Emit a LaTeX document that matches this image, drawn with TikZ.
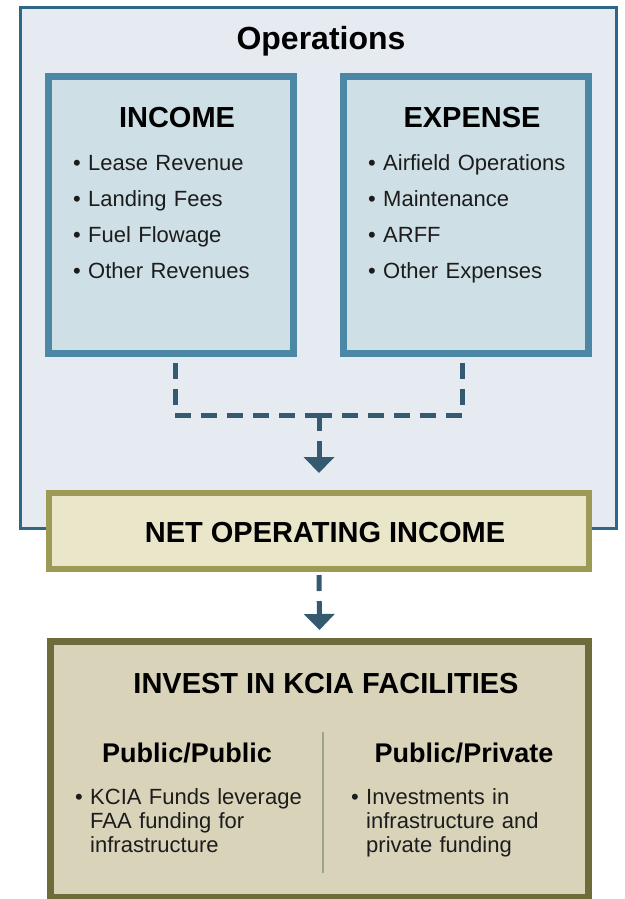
\documentclass[tikz,border=0pt]{standalone}
\usepackage{fontspec}
\setmainfont{Liberation Sans}
\usetikzlibrary{arrows.meta}

\definecolor{opsfill}{HTML}{E6EBF2}
\definecolor{opsline}{HTML}{2F6585}
\definecolor{subfill}{HTML}{CFDFE6}
\definecolor{subline}{HTML}{4C88A6}
\definecolor{noifill}{HTML}{EAE6C9}
\definecolor{noiline}{HTML}{9C9A55}
\definecolor{invfill}{HTML}{D9D3BA}
\definecolor{invline}{HTML}{6E6C3A}
\definecolor{flowcol}{HTML}{355A70}
\definecolor{divcol}{HTML}{9AA58A}
\definecolor{bodytext}{HTML}{1C1C1C}

\begin{document}
\begin{tikzpicture}[x=1pt, y=-1pt,
    opsbox/.style={draw=opsline, fill=opsfill, line width=3pt, inner sep=0},
    subbox/.style={draw=subline, fill=subfill, line width=7pt, inner sep=0,
      minimum width=245pt, minimum height=277pt},
    noibox/.style={draw=noiline, fill=noifill, line width=6pt, inner sep=0},
    invbox/.style={draw=invline, fill=invfill, line width=7pt, inner sep=0},
    bigtitle/.style={font=\bfseries\fontsize{32}{36}\selectfont, inner sep=0, anchor=base},
    boxtitle/.style={font=\bfseries\fontsize{29}{32}\selectfont, inner sep=0, anchor=base},
    subtitle/.style={font=\bfseries\fontsize{27}{30}\selectfont, inner sep=0, anchor=base},
    itemlist/.style={text=bodytext, inner sep=0, anchor=base west, align=left,
      text width=230pt},
    flow/.style={flowcol, line width=5pt, dash pattern=on 16pt off 10pt},
    flowhead/.style={-{Triangle[width=30pt,length=16pt]}}]
    \useasboundingbox (0,0) rectangle (624,899);
    % operations frame
    \node[opsbox, minimum width=596pt, minimum height=520pt] (ops) at (318,268) {};
    \node[bigtitle] (opstitle) at (321,49) {Operations};
    % income and expense
    \node[subbox] (income) at (171,215) {};
    \node[subbox] (expense) at (466,215) {};
    \node[boxtitle] (inctitle) at (177,127) {INCOME};
    \node[boxtitle] (exptitle) at (472,127) {EXPENSE};
    \node[itemlist, font=\fontsize{22}{36.2}\selectfont] (inclist) at (73,170)
      {• Lease Revenue\\• Landing Fees\\• Fuel Flowage\\• Other Revenues};
    \node[itemlist, font=\fontsize{22}{36.2}\selectfont] (explist) at (368,170)
      {• Airfield Operations\\• Maintenance\\• ARFF\\• Other Expenses};
    % net operating income
    \node[noibox, minimum width=540pt, minimum height=76pt] (noi) at (319,531) {};
    \node[boxtitle] (noititle) at (325,542) {NET OPERATING INCOME};
    % investment
    \node[invbox, minimum width=538pt, minimum height=256pt] (invest) at (319.5,769.5) {};
    \node[boxtitle] (invtitle) at (326,693) {INVEST IN KCIA FACILITIES};
    \node[subtitle] (pubpub) at (187,762) {Public/Public};
    \node[subtitle] (pubpriv) at (464,762) {Public/Private};
    \node[itemlist, font=\fontsize{22}{24}\selectfont] (publist) at (75,804)
      {• KCIA Funds leverage\\\phantom{• }FAA funding for\\\phantom{• }infrastructure};
    \node[itemlist, font=\fontsize{22}{24}\selectfont] (privlist) at (351,804)
      {• Investments in\\\phantom{• }infrastructure and\\\phantom{• }private funding};
    \coordinate (divtop) at (323,732);
    \coordinate (divbot) at (323,873);
    \draw[divcol, line width=2.5pt] (divtop) -- (divbot);
    % dashed connectors
    \coordinate (incout) at ([xshift=4pt,yshift=-6pt]income.south);
    \coordinate (expout) at ([xshift=-4pt,yshift=-6pt]expense.south);
    \coordinate (joint) at (319,415);
    \draw[flow] (incout) |- (joint);
    \draw[flow] (expout) |- (joint);
    \draw[flow, flowhead] (joint) -- ([yshift=17pt]noi.north);
    \draw[flow, flowhead] ([yshift=-3pt]noi.south) -- ([yshift=8pt]invest.north);
\end{tikzpicture}
\end{document}
